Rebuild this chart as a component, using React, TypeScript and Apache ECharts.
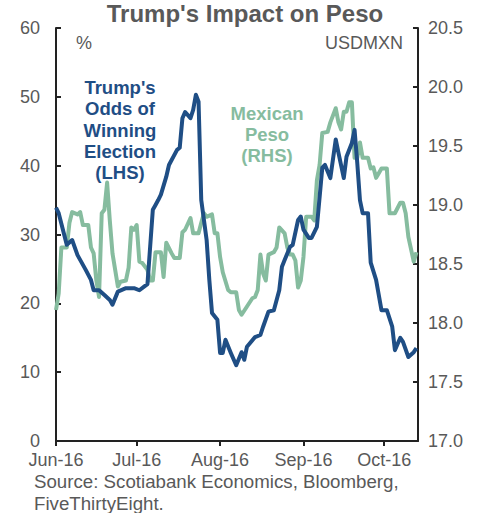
import React, { useEffect, useRef } from "react";
import * as echarts from "echarts";

const trumpDates = [
  "2016-06-01", "2016-06-02", "2016-06-05", "2016-06-07", "2016-06-09", "2016-06-12", "2016-06-14",
  "2016-06-15", "2016-06-17", "2016-06-19", "2016-06-21", "2016-06-22", "2016-06-24", "2016-06-27",
  "2016-06-28", "2016-06-30", "2016-07-02", "2016-07-04", "2016-07-05", "2016-07-07", "2016-07-08",
  "2016-07-09", "2016-07-10", "2016-07-12", "2016-07-13", "2016-07-16", "2016-07-17", "2016-07-18",
  "2016-07-19", "2016-07-21", "2016-07-22", "2016-07-23", "2016-07-24", "2016-07-25", "2016-07-27",
  "2016-07-28", "2016-07-29", "2016-07-31", "2016-08-01", "2016-08-02", "2016-08-03", "2016-08-05",
  "2016-08-07", "2016-08-09", "2016-08-10", "2016-08-11", "2016-08-14", "2016-08-16", "2016-08-17",
  "2016-08-19", "2016-08-21", "2016-08-23", "2016-08-24", "2016-08-25", "2016-08-27", "2016-08-28",
  "2016-08-30", "2016-08-31", "2016-09-01", "2016-09-03", "2016-09-04", "2016-09-06", "2016-09-08",
  "2016-09-09", "2016-09-11", "2016-09-13", "2016-09-14", "2016-09-16", "2016-09-17", "2016-09-19",
  "2016-09-20", "2016-09-21", "2016-09-22", "2016-09-23", "2016-09-25", "2016-09-26", "2016-09-28",
  "2016-09-30", "2016-10-02", "2016-10-04", "2016-10-05", "2016-10-07", "2016-10-08", "2016-10-10",
  "2016-10-12", "2016-10-13",
];
const trumpOdds = [
  33.9, 33.1, 28.5, 29.2, 27.0, 24.9, 23.4,
  21.9, 21.9, 21.2, 20.5, 19.8, 21.7, 22.2,
  22.2, 22.2, 21.9, 22.5, 22.8, 33.6, 34.3,
  35.0, 35.8, 38.4, 40.1, 42.3, 42.6, 46.9,
  47.8, 46.9, 48.1, 50.3, 49.3, 35.0, 29.2,
  23.4, 18.6, 17.6, 12.8, 12.8, 14.7, 12.8,
  11.0, 12.9, 11.8, 13.7, 15.1, 15.4, 16.6,
  18.8, 19.0, 21.9, 25.3, 26.3, 28.2, 28.5,
  32.1, 32.6, 30.7, 29.5, 29.5, 31.1, 39.7,
  40.1, 38.2, 43.8, 41.9, 38.2, 41.3, 43.3,
  45.2, 40.4, 35.0, 33.1, 33.1, 25.9, 23.4,
  19.0, 19.0, 16.6, 13.2, 15.0, 14.4, 12.2,
  12.9, 13.5,
];

const pesoDates = [
  "2016-06-01", "2016-06-02", "2016-06-03", "2016-06-05", "2016-06-06", "2016-06-07", "2016-06-09",
  "2016-06-10", "2016-06-11", "2016-06-13", "2016-06-14", "2016-06-15", "2016-06-16", "2016-06-17",
  "2016-06-18", "2016-06-19", "2016-06-20", "2016-06-21", "2016-06-22", "2016-06-24", "2016-06-25",
  "2016-06-27", "2016-06-28", "2016-06-29", "2016-06-30", "2016-07-01", "2016-07-02", "2016-07-03",
  "2016-07-05", "2016-07-06", "2016-07-07", "2016-07-08", "2016-07-10", "2016-07-11", "2016-07-12",
  "2016-07-14", "2016-07-15", "2016-07-17", "2016-07-18", "2016-07-19", "2016-07-21", "2016-07-22",
  "2016-07-24", "2016-07-25", "2016-07-26", "2016-07-27", "2016-07-29", "2016-07-30", "2016-07-31",
  "2016-08-01", "2016-08-02", "2016-08-04", "2016-08-05", "2016-08-07", "2016-08-08", "2016-08-09",
  "2016-08-11", "2016-08-13", "2016-08-14", "2016-08-15", "2016-08-16", "2016-08-17", "2016-08-18",
  "2016-08-19", "2016-08-21", "2016-08-22", "2016-08-23", "2016-08-25", "2016-08-26", "2016-08-27",
  "2016-08-28", "2016-08-29", "2016-08-30", "2016-08-31", "2016-09-01", "2016-09-02", "2016-09-04",
  "2016-09-05", "2016-09-06", "2016-09-07", "2016-09-08", "2016-09-10", "2016-09-11", "2016-09-13",
  "2016-09-14", "2016-09-15", "2016-09-16", "2016-09-17", "2016-09-18", "2016-09-19", "2016-09-20",
  "2016-09-21", "2016-09-22", "2016-09-23", "2016-09-25", "2016-09-26", "2016-09-27", "2016-09-28",
  "2016-09-29", "2016-09-30", "2016-10-02", "2016-10-03", "2016-10-05", "2016-10-07", "2016-10-08",
  "2016-10-09", "2016-10-10", "2016-10-12", "2016-10-13",
];
const pesoRate = [
  18.11, 18.25, 18.64, 18.64, 18.85, 18.94, 18.92,
  18.94, 18.83, 18.83, 18.64, 18.59, 18.36, 18.22,
  18.93, 18.96, 19.19, 18.87, 18.59, 18.31, 18.35,
  18.36, 18.47, 18.81, 18.79, 18.83, 18.52, 18.51,
  18.45, 18.36, 18.36, 18.60, 18.60, 18.39, 18.68,
  18.59, 18.55, 18.55, 18.77, 18.79, 18.89, 18.76,
  18.76, 18.85, 18.93, 18.90, 18.92, 18.76, 18.76,
  18.56, 18.43, 18.28, 18.26, 18.26, 18.11, 18.07,
  18.14, 18.21, 18.22, 18.28, 18.58, 18.42, 18.36,
  18.58, 18.60, 18.64, 18.81, 18.76, 18.64, 18.58,
  18.58, 18.53, 18.30, 18.36, 18.56, 18.90, 18.90,
  18.87, 19.21, 19.34, 19.61, 19.62, 19.70, 19.82,
  19.70, 19.64, 19.79, 19.79, 19.87, 19.87, 19.40,
  19.40, 19.53, 19.40, 19.40, 19.31, 19.32, 19.23,
  19.27, 19.31, 19.31, 18.93, 18.93, 19.02, 19.02,
  18.93, 18.73, 18.52, 18.60,
];

const monthTicks = ["2016-06-01", "2016-07-01", "2016-08-01", "2016-09-01", "2016-10-01"];
const monthNames = ["Jan", "Feb", "Mar", "Apr", "May", "Jun", "Jul", "Aug", "Sep", "Oct", "Nov", "Dec"];

const NAVY = "#1f4e85";
const GREEN = "#86bc9f";
const GREY = "#595959";
const FONT = "Arial, 'Liberation Sans', sans-serif";

function toTs(s: string): number {
  const [y, m, d] = s.split("-").map(Number);
  return new Date(y, m - 1, d).getTime();
}

export default function App() {
  const ref = useRef<HTMLDivElement>(null);
  useEffect(() => {
    document.body.style.margin = "0";
    if (!ref.current) return;
    const chart = echarts.init(ref.current, undefined, { renderer: "svg" });
    const xMin = toTs("2016-06-01");
    const xMax = toTs("2016-10-13") + 14 * 3600 * 1000;
    const ticks = monthTicks.map(toTs);
    chart.setOption({
      animation: false,
      backgroundColor: "#ffffff",
      title: {
        text: "Trump's Impact on Peso",
        left: 245,
        textAlign: "center",
        top: 1,
        padding: 0,
        textStyle: { fontFamily: FONT, fontSize: 24, fontWeight: "bold", color: GREY },
      },
      grid: { left: 56, right: 69, top: 28, bottom: 72 },
      xAxis: {
        type: "value",
        min: xMin,
        max: xMax,
        axisLine: { show: true, lineStyle: { color: "#222", width: 2 } },
        axisTick: {
          show: true,
          inside: false,
          length: 5,
          lineStyle: { color: "#222", width: 2 },
          customValues: ticks,
        },
        axisLabel: {
          fontFamily: FONT,
          fontSize: 18,
          color: GREY,
          margin: 10,
          customValues: ticks,
          formatter: (v: number) => {
            const d = new Date(v);
            return monthNames[d.getMonth()] + "-" + String(d.getFullYear()).slice(2);
          },
        },
        splitLine: { show: false },
      },
      yAxis: [
        {
          type: "value",
          min: 0,
          max: 60,
          interval: 10,
          position: "left",
          axisLine: { show: true, lineStyle: { color: "#222", width: 2 } },
          axisTick: { show: true, inside: true, length: 5, lineStyle: { color: "#222", width: 2 } },
          axisLabel: { fontFamily: FONT, fontSize: 18, color: GREY, margin: 16 },
          splitLine: { show: false },
        },
        {
          type: "value",
          min: 17,
          max: 20.5,
          interval: 0.5,
          position: "right",
          axisLine: { show: true, lineStyle: { color: "#222", width: 2 } },
          axisTick: { show: true, inside: true, length: 5, lineStyle: { color: "#222", width: 2 } },
          axisLabel: {
            fontFamily: FONT,
            fontSize: 18,
            color: GREY,
            margin: 10,
            formatter: (v: number) => v.toFixed(1),
          },
          splitLine: { show: false },
        },
      ],
      series: [
        {
          name: "Mexican Peso (RHS)",
          type: "line",
          yAxisIndex: 1,
          showSymbol: false,
          symbol: "none",
          lineStyle: { color: GREEN, width: 4, join: "round" },
          data: pesoDates.map((d, i) => [toTs(d), pesoRate[i]]),
          z: 2,
        },
        {
          name: "Trump's Odds of Winning Election (LHS)",
          type: "line",
          yAxisIndex: 0,
          showSymbol: false,
          symbol: "none",
          lineStyle: { color: NAVY, width: 4, join: "round" },
          data: trumpDates.map((d, i) => [toTs(d), trumpOdds[i]]),
          z: 3,
        },
      ],
      graphic: [
        {
          type: "text",
          left: 76,
          top: 34,
          style: { text: "%", fontFamily: FONT, fontSize: 18, fill: GREY },
        },
        {
          type: "text",
          right: 84,
          top: 34,
          style: { text: "USDMXN", fontFamily: FONT, fontSize: 18, fill: GREY },
        },
        {
          type: "text",
          x: 120,
          y: 77,
          style: {
            text: "Trump's\nOdds of\nWinning\nElection\n(LHS)",
            fontFamily: FONT,
            fontSize: 18.5,
            fontWeight: "bold",
            fill: NAVY,
            align: "center",
            verticalAlign: "top",
            lineHeight: 21.3,
          },
        },
        {
          type: "text",
          x: 267,
          y: 103,
          style: {
            text: "Mexican\nPeso\n(RHS)",
            fontFamily: FONT,
            fontSize: 18.5,
            fontWeight: "bold",
            fill: GREEN,
            align: "center",
            verticalAlign: "top",
            lineHeight: 21,
          },
        },
        {
          type: "text",
          left: 34,
          top: 470,
          style: {
            text: "Source: Scotiabank Economics, Bloomberg,\nFiveThirtyEight.",
            fontFamily: FONT,
            fontSize: 18.7,
            fill: GREY,
            lineHeight: 22,
          },
        },
      ],
    });
    return () => chart.dispose();
  }, []);
  return <div ref={ref} style={{ width: 487, height: 513 }} />;
}
